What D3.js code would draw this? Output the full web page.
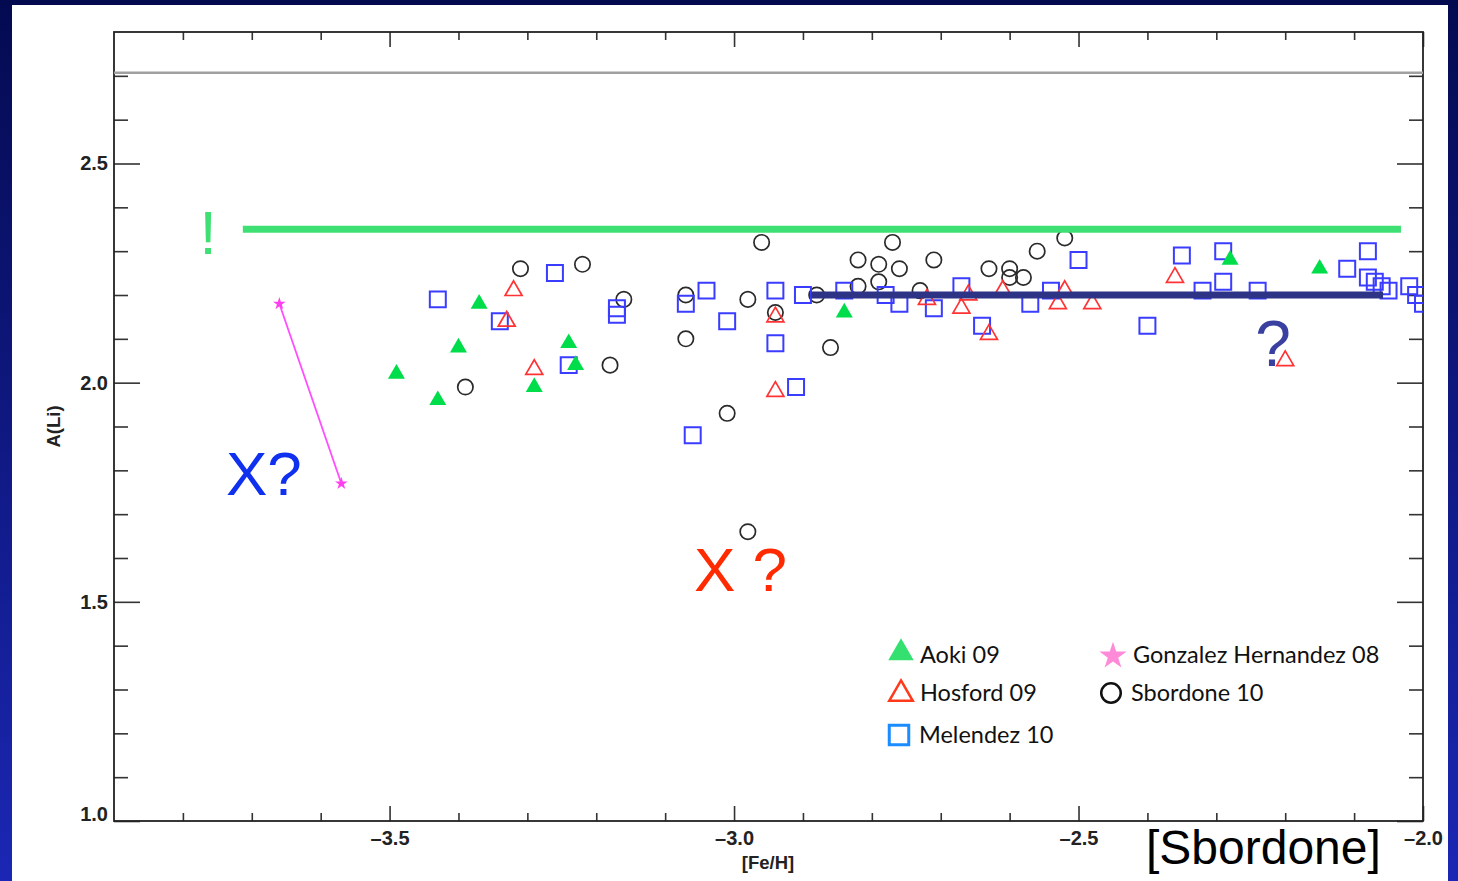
<!DOCTYPE html>
<html><head><meta charset="utf-8">
<script src="https://cdn.jsdelivr.net/npm/d3@7"></script>
<style>html,body{margin:0;padding:0;overflow:hidden;background:#0a1060;}</style>
</head><body>
<script>
// ---- data ----
const xTicksMajor = [-3.5, -3.0, -2.5, -2.0];
const yTicksMajor = [1.0, 1.5, 2.0, 2.5];
const xTickLabels = ["\u20133.5", "\u20133.0", "\u20132.5", "\u20132.0"];
const yTickLabels = ["1.0", "1.5", "2.0", "2.5"];

const aokiX = [-3.49, -3.43, -3.40, -3.37, -3.29, -3.24, -3.23, -2.84, -2.28, -2.15];
const aokiY = [2.02, 1.96, 2.08, 2.18, 1.99, 2.09, 2.04, 2.16, 2.28, 2.26];

const hosfordX = [-3.32, -3.33, -3.29, -2.94, -2.94, -2.72, -2.67, -2.66, -2.61, -2.63, -2.52, -2.53, -2.48, -2.36, -2.20];
const hosfordY = [2.21, 2.14, 2.03, 2.15, 1.98, 2.19, 2.17, 2.20, 2.21, 2.11, 2.21, 2.18, 2.18, 2.24, 2.05];

const melendezX = [-3.43, -3.26, -3.34, -3.17, -3.17, -3.24, -3.07, -3.04, -3.01, -2.94, -2.90, -2.84, -2.78, -2.76, -2.94, -2.91, -3.06, -2.71, -2.67, -2.64, -2.57, -2.54, -2.50, -2.40, -2.35, -2.32, -2.29, -2.29, -2.24, -2.11, -2.08, -2.08, -2.07, -2.06, -2.05, -2.02, -2.01, -2.00];
const melendezY = [2.19, 2.25, 2.14, 2.17, 2.155, 2.04, 2.18, 2.21, 2.14, 2.21, 2.20, 2.21, 2.20, 2.18, 2.09, 1.99, 1.88, 2.17, 2.22, 2.13, 2.18, 2.21, 2.28, 2.13, 2.29, 2.21, 2.30, 2.23, 2.21, 2.26, 2.30, 2.24, 2.23, 2.22, 2.21, 2.22, 2.20, 2.18];

const sbordoneX = [-3.39, -3.31, -3.22, -3.16, -3.18, -3.07, -3.07, -2.98, -3.01, -2.96, -2.94, -2.88, -2.86, -2.82, -2.82, -2.79, -2.79, -2.76, -2.77, -2.71, -2.73, -2.98, -2.63, -2.60, -2.60, -2.58, -2.56, -2.52];
const sbordoneY = [1.99, 2.26, 2.27, 2.19, 2.04, 2.20, 2.10, 2.19, 1.93, 2.32, 2.16, 2.20, 2.08, 2.28, 2.22, 2.27, 2.23, 2.26, 2.32, 2.28, 2.21, 1.66, 2.26, 2.26, 2.24, 2.24, 2.30, 2.33];

const gonzalezX = [-3.66, -3.57];
const gonzalezY = [2.18, 1.77];

const greenLineX = [-3.713, -2.032], greenLineY = 2.35;
const navyLineX = [-2.888, -2.058], navyLineY = 2.20;
const grayLineY = 2.707;

const legendNames = ["Aoki 09", "Hosford 09", "Melendez 10", "Gonzalez Hernandez 08", "Sbordone 10"];

// ---- layout ----
const W = 1458, H = 881;
const svg = d3.select("body").append("svg").attr("width", W).attr("height", H);
const defs = svg.append("defs");
const grad = defs.append("linearGradient").attr("id", "bg").attr("x1", 0).attr("y1", 0).attr("x2", 0).attr("y2", 1);
grad.append("stop").attr("offset", "0%").attr("stop-color", "#040a50");
grad.append("stop").attr("offset", "100%").attr("stop-color", "#1b27b4");
svg.append("rect").attr("width", W).attr("height", H).attr("fill", "url(#bg)");
svg.append("rect").attr("x", 12).attr("y", 5).attr("width", 1436).attr("height", H).attr("fill", "#fff");

const L = 114, R = 1423, T = 32, B = 821;
const x = d3.scaleLinear().domain([-3.9, -2.0]).range([L, R]);
const y = d3.scaleLinear().domain([1.0, 2.8]).range([B, T]);

defs.append("clipPath").attr("id", "plotclip").append("rect")
  .attr("x", L).attr("y", T).attr("width", R - L).attr("height", B - T);

const xMinor = d3.range(-3.8, -2.0, 0.1).map(v => +v.toFixed(2)).filter(v => !xTicksMajor.some(m => Math.abs(m - v) < 1e-6));
const yMinor = d3.range(1.1, 2.8, 0.1).map(v => +v.toFixed(2)).filter(v => !yTicksMajor.some(m => Math.abs(m - v) < 1e-6));

const tickFont = "bold 20px 'Liberation Sans', Arial, sans-serif";
const titleFont = "bold 18.5px 'Liberation Sans', Arial, sans-serif";
function styleAxis(g) {
  g.select(".domain").remove();
  g.selectAll("line").attr("stroke", "#333").attr("stroke-width", 1.6);
  g.selectAll("text").style("font", tickFont).attr("fill", "#222");
}
// bottom
svg.append("g").attr("transform", `translate(0,${B})`)
  .call(d3.axisBottom(x).tickValues(xTicksMajor).tickSize(-15).tickPadding(10).tickFormat((d, i) => xTickLabels[i]))
  .call(styleAxis);
svg.append("g").attr("transform", `translate(0,${B})`)
  .call(d3.axisBottom(x).tickValues(xMinor).tickSize(-8).tickFormat(""))
  .call(styleAxis);
// top
svg.append("g").attr("transform", `translate(0,${T})`)
  .call(d3.axisTop(x).tickValues(xTicksMajor).tickSize(-15).tickFormat(""))
  .call(styleAxis);
svg.append("g").attr("transform", `translate(0,${T})`)
  .call(d3.axisTop(x).tickValues(xMinor).tickSize(-8).tickFormat(""))
  .call(styleAxis);
// left
const leftAx = svg.append("g").attr("transform", `translate(${L},0)`)
  .call(d3.axisLeft(y).tickValues(yTicksMajor).tickSize(-26).tickPadding(6).tickFormat((d, i) => yTickLabels[i]))
  .call(styleAxis);
leftAx.selectAll(".tick text").filter(d => d === 1.0).attr("dy", "-0.05em");
svg.append("g").attr("transform", `translate(${L},0)`)
  .call(d3.axisLeft(y).tickValues(yMinor).tickSize(-14).tickFormat(""))
  .call(styleAxis);
// right
svg.append("g").attr("transform", `translate(${R},0)`)
  .call(d3.axisRight(y).tickValues(yTicksMajor).tickSize(-26).tickFormat(""))
  .call(styleAxis);
svg.append("g").attr("transform", `translate(${R},0)`)
  .call(d3.axisRight(y).tickValues(yMinor).tickSize(-14).tickFormat(""))
  .call(styleAxis);
// frame
svg.append("rect").attr("x", L).attr("y", T).attr("width", R - L).attr("height", B - T)
  .attr("fill", "none").attr("stroke", "#222").attr("stroke-width", 1.8);

// axis titles
svg.append("text").attr("x", 768).attr("y", 869).attr("text-anchor", "middle")
  .style("font", titleFont).attr("fill", "#222").text("[Fe/H]");
svg.append("text").attr("transform", `translate(60,${y(1.9)}) rotate(-90)`).attr("text-anchor", "middle")
  .style("font", titleFont).attr("fill", "#222").text("A(Li)");

const plot = svg.append("g").attr("clip-path", "url(#plotclip)");

// gray line
plot.append("line").attr("x1", L).attr("x2", R).attr("y1", y(grayLineY)).attr("y2", y(grayLineY))
  .attr("stroke", "#a0a0a0").attr("stroke-width", 2.5);

// data markers
const tri = d3.symbol().type(d3.symbolTriangle).size(125);
const sq = d3.symbol().type(d3.symbolSquare).size(255);
plot.append("g").selectAll("path").data(d3.zip(sbordoneX, sbordoneY)).join("path")
  .attr("d", d3.symbol().type(d3.symbolCircle).size(185)())
  .attr("transform", d => `translate(${x(d[0])},${y(d[1])})`)
  .attr("fill", "none").attr("stroke", "#2a2a2a").attr("stroke-width", 1.7);
plot.append("g").selectAll("path").data(d3.zip(melendezX, melendezY)).join("path")
  .attr("d", sq())
  .attr("transform", d => `translate(${x(d[0])},${y(d[1])})`)
  .attr("fill", "none").attr("stroke", "#3a3cff").attr("stroke-width", 2);
plot.append("g").selectAll("path").data(d3.zip(hosfordX, hosfordY)).join("path")
  .attr("d", tri())
  .attr("transform", d => `translate(${x(d[0])},${y(d[1])})`)
  .attr("fill", "none").attr("stroke", "#ff3333").attr("stroke-width", 1.7);
plot.append("g").selectAll("path").data(d3.zip(aokiX, aokiY)).join("path")
  .attr("d", tri())
  .attr("transform", d => `translate(${x(d[0])},${y(d[1])})`)
  .attr("fill", "#00dd4a");

// Gonzalez Hernandez
plot.append("line").attr("x1", x(gonzalezX[0])).attr("y1", y(gonzalezY[0]))
  .attr("x2", x(gonzalezX[1])).attr("y2", y(gonzalezY[1]))
  .attr("stroke", "#ff4dff").attr("stroke-width", 1.8);
plot.append("g").selectAll("path").data(d3.zip(gonzalezX, gonzalezY)).join("path")
  .attr("d", d3.symbol().type(d3.symbolStar).size(50)())
  .attr("transform", d => `translate(${x(d[0])},${y(d[1])})`)
  .attr("fill", "#ff3ef0");

// overlay lines
svg.append("line").attr("x1", x(greenLineX[0])).attr("x2", x(greenLineX[1]))
  .attr("y1", y(greenLineY)).attr("y2", y(greenLineY))
  .attr("stroke", "#3ee074").attr("stroke-width", 7);
svg.append("line").attr("x1", x(navyLineX[0])).attr("x2", x(navyLineX[1]))
  .attr("y1", y(navyLineY)).attr("y2", y(navyLineY))
  .attr("stroke", "#2d3486").attr("stroke-width", 7);

// annotations
const annFont = "'Liberation Sans', Arial, sans-serif";
svg.append("text").attr("x", 208).attr("y", 254).attr("text-anchor", "middle")
  .style("font", `62px ${annFont}`).attr("fill", "#3ee074").text("!");
svg.append("text").attr("x", 1273).attr("y", 366).attr("text-anchor", "middle")
  .style("font", `64px ${annFont}`).attr("fill", "#3a40a0").text("?");
svg.append("text").attr("x", 226).attr("y", 495)
  .style("font", `62px ${annFont}`).attr("fill", "#1030f0").text("X?");
svg.append("text").attr("x", 694).attr("y", 591)
  .style("font", `62px ${annFont}`).attr("fill", "#ff2a00").text("X ?");
svg.append("text").attr("x", 1146).attr("y", 864)
  .style("font", `48px ${annFont}`).attr("fill", "#000").text("[Sbordone]");

// legend
const legFont = "23.5px Lato, 'Open Sans', sans-serif";
const lg = svg.append("g");
const legItems = [
  {name: legendNames[0], mx: 901, my: 653, tx: 920, ty: 663, sym: "tri-fill"},
  {name: legendNames[1], mx: 901, my: 694, tx: 920, ty: 701, sym: "tri"},
  {name: legendNames[2], mx: 899, my: 735, tx: 919, ty: 743, sym: "sq"},
  {name: legendNames[3], mx: 1113, my: 656, tx: 1133, ty: 663, sym: "star"},
  {name: legendNames[4], mx: 1111, my: 693, tx: 1131, ty: 701, sym: "circ"}
];
legItems.forEach(it => {
  let p = lg.append("path").attr("transform", `translate(${it.mx},${it.my})`);
  if (it.sym === "tri-fill") p.attr("d", d3.symbol().type(d3.symbolTriangle).size(280)()).attr("fill", "#33e070");
  if (it.sym === "tri") p.attr("d", d3.symbol().type(d3.symbolTriangle).size(240)()).attr("fill", "none").attr("stroke", "#ff3a1a").attr("stroke-width", 2.5);
  if (it.sym === "sq") p.attr("d", d3.symbol().type(d3.symbolSquare).size(380)()).attr("fill", "none").attr("stroke", "#1a8cff").attr("stroke-width", 3);
  if (it.sym === "star") p.attr("d", d3.symbol().type(d3.symbolStar).size(230)()).attr("fill", "#ff8ad8");
  if (it.sym === "circ") p.attr("d", d3.symbol().type(d3.symbolCircle).size(300)()).attr("fill", "none").attr("stroke", "#111").attr("stroke-width", 2.5);
  lg.append("text").attr("x", it.tx).attr("y", it.ty).style("font", legFont).attr("fill", "#111").text(it.name);
});
</script>
</body></html>
